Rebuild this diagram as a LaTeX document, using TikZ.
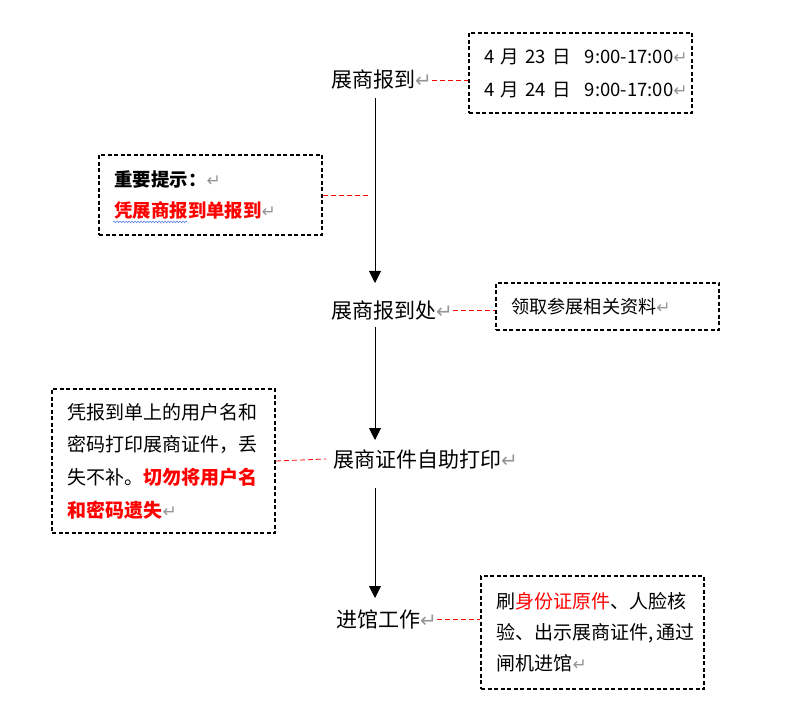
\documentclass[tikz,border=0pt]{standalone}
\usepackage{fontspec}
\setmainfont{Noto Sans CJK SC}
\newfontfamily\symfont{DejaVu Sans}
\usetikzlibrary{arrows.meta,decorations.pathmorphing,calc}
\definecolor{pmark}{RGB}{150,150,150}
\definecolor{spellblue}{RGB}{70,110,230}
\newcommand{\pmk}[1][17]{{\symfont\fontsize{#1}{#1}\selectfont\color{pmark}↵}}
\begin{document}
\begin{tikzpicture}[x=1pt,y=-1pt,
  lab/.style={inner sep=0pt, anchor=west, font=\fontsize{21}{25}\selectfont},
  infobox/.style={draw, line width=1.6pt, dash pattern=on 4pt off 2.5pt,
    minimum width=223pt, text width=192pt, inner xsep=15.5pt, inner ysep=0pt, align=left},
  link/.style={red, line width=0.8pt, dash pattern=on 5pt off 3pt},
  flow/.style={line width=0.9pt, -{Triangle[width=12pt,length=12pt]}}
]
\useasboundingbox (0,0) rectangle (798,719);
\coordinate (spine) at (375,0);
\coordinate (tap) at (370,195);

% main labels
\node[lab] (l1) at (331,80) {展商报到\pmk[20]};
\node[lab] (l2) at (331,310) {展商报到处\pmk[20]};
\node[lab] (l3) at (333,459) {展商证件自助打印\pmk[20]};
\node[lab] (l4) at (336,619) {进馆工作\pmk[20]};

% info boxes
\node[infobox, minimum height=80pt, font=\fontsize{18.5}{33}\selectfont] (b1) at (580.5,73)
  {\mbox{4~月~23~日\hspace{14pt}9:00-17:00\pmk}\\\mbox{4~月~24~日\hspace{14pt}9:00-17:00\pmk}};
\node[infobox, minimum height=80pt, font=\fontsize{18.4}{31}\selectfont] (b2) at (210.5,195)
  {\textbf{重要提示：}\pmk\\\textbf{\color{red}凭展商报到单报到}\pmk};
\node[infobox, minimum height=47pt, font=\fontsize{18.1}{31}\selectfont] (b3) at (607.5,306.5)
  {领取参展相关资料\pmk};
\node[infobox, minimum height=144pt, font=\fontsize{19}{32.7}\selectfont] (b4) at (163.5,461)
  {凭报到单上的用户名和\\密码打印展商证件，丢\\失不补。\textbf{\color{red}切勿将用户名}\\\textbf{\color{red}和密码遗失}\pmk};
\node[infobox, minimum height=113pt, font=\fontsize{19}{31}\selectfont] (b5) at (592.5,632.5)
  {\mbox{刷{\color{red}身份证原件}、人脸核}\\\mbox{验、出示展商证件,\hspace{3pt}通过}\\\mbox{闸机进馆\pmk}};

% spell-check underline
\draw[spellblue, line width=0.5pt, decorate, decoration={snake, amplitude=0.8pt, segment length=3pt}]
  ([shift={(15pt,14pt)}]b2.south west) -- ([shift={(89pt,14pt)}]b2.south west);

% dashed links
\draw[link] (l1.east) -- (l1.east -| b1.west);
\draw[link] (b2.east) -- (tap);
\draw[link] (l2.east) -- (l2.east -| b3.west);
\draw[link] (b4.east) -- ([xshift=-7pt]l3.west);
\draw[link] (l4.east) -- (l4.east -| b5.west);

% flow arrows
\draw[flow] ($(spine |- l1)+(0,18)$) -- ($(spine |- l2)+(0,-27)$);
\draw[flow] ($(spine |- l2)+(0,17)$) -- ($(spine |- l3)+(0,-19)$);
\draw[flow] ($(spine |- l3)+(0,29)$) -- ($(spine |- l4)+(0,-21)$);
\end{tikzpicture}
\end{document}
